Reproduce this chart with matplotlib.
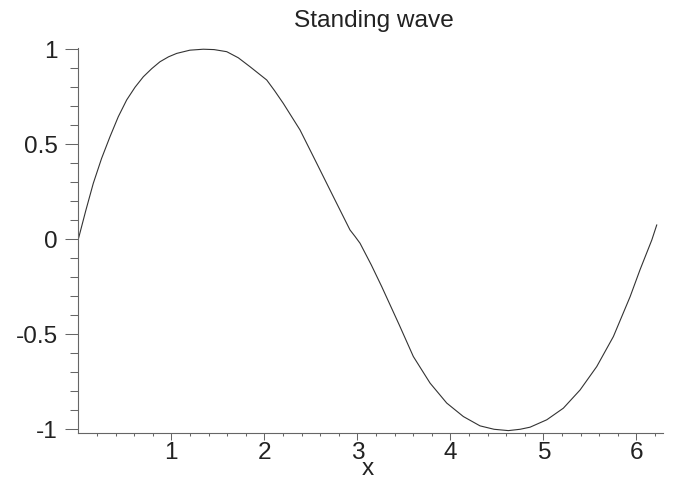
import numpy as np
import matplotlib
matplotlib.use("Agg")
import matplotlib.pyplot as plt
from matplotlib.ticker import FixedLocator, FixedFormatter

# Data
x_vals = [0.0, 0.08, 0.161, 0.25, 0.341, 0.43, 0.520, 0.61, 0.699, 0.79, 0.878,
          0.97, 1.058, 1.20, 1.344, 1.46, 1.596, 1.72,
          1.846, 2.026, 2.11, 2.204, 2.384, 2.563, 2.742, 2.921, 2.975, 3.029, 3.15, 3.262,
          3.45, 3.602, 3.782, 3.961, 4.140, 4.319, 4.47, 4.624, 4.75, 4.857,
          5.037, 5.215, 5.395, 5.574, 5.753, 5.933, 6.039, 6.166, 6.219]
y_vals = [0.0, 0.15, 0.294, 0.425, 0.540, 0.645, 0.733, 0.800, 0.855, 0.898, 0.934,
          0.960, 0.978, 0.995, 1.0, 0.998, 0.987, 0.955,
          0.908, 0.838, 0.782, 0.715, 0.575, 0.400, 0.224, 0.049, 0.015, -0.021, -0.135, -0.249,
          -0.45, -0.617, -0.757, -0.862, -0.933, -0.982, -1.0, -1.007, -1.0, -0.989,
          -0.950, -0.889, -0.793, -0.670, -0.512, -0.302, -0.161, -0.004, 0.075]

x_major = [1, 2, 3, 4, 5, 6]
x_major_labels = ["1", "2", "3", "4", "5", "6"]
y_major = [-1, -0.5, 0, 0.5, 1]
y_major_labels = ["-1", "-0.5", "0", "0.5", "1"]
title_text = "Standing wave"
xlabel_text = "x"

plt.rcParams['font.family'] = ['Liberation Sans', 'DejaVu Sans']

W, H = 673, 487
fig = plt.figure(figsize=(W / 100, H / 100), dpi=100)
left, right, top, bottom = 78.3, 662.7, 47.7, 432.7
ax = fig.add_axes([left / W, 1 - bottom / H, (right - left) / W, (bottom - top) / H])

ax.plot(x_vals, y_vals, color='#333333', lw=0.8, solid_joinstyle='round')

ax.set_xlim(0, 2 * np.pi)
ax.set_ylim(-1.018, 1.008)

for s in ['top', 'right']:
    ax.spines[s].set_visible(False)
for s in ['left', 'bottom']:
    ax.spines[s].set_color('#666666')
    ax.spines[s].set_linewidth(0.8)

ax.xaxis.set_major_locator(FixedLocator(x_major))
ax.xaxis.set_major_formatter(FixedFormatter(x_major_labels))
xminor = [round(0.2 * i, 1) for i in range(1, 32) if i % 5 != 0]
ax.xaxis.set_minor_locator(FixedLocator(xminor))

ax.yaxis.set_major_locator(FixedLocator(y_major))
ax.yaxis.set_major_formatter(FixedFormatter(y_major_labels))
yminor = [round(-1 + 0.1 * i, 1) for i in range(1, 20) if i % 5 != 0]
ax.yaxis.set_minor_locator(FixedLocator(yminor))

fs = 17.6
ax.tick_params(axis='y', which='major', direction='out', length=9.4, width=0.75,
               color='#666666', pad=5.5, labelsize=fs, labelcolor='#222222')
ax.tick_params(axis='y', which='minor', direction='out', length=5.8, width=0.75,
               color='#666666')
ax.tick_params(axis='x', which='major', direction='out', length=5, width=0.75,
               color='#666666', pad=1.5, labelsize=fs, labelcolor='#222222')
ax.tick_params(axis='x', which='minor', direction='out', length=2.5, width=0.75,
               color='#666666')

fig.text(374 / W, 1 - 26.7 / H, title_text, ha='center', va='baseline',
         fontsize=fs, color='#222222')
fig.text(368 / W, 1 - 469 / H, xlabel_text, ha='center', va='center',
         fontsize=fs, color='#222222')

fig.savefig("out.png", dpi=100)
